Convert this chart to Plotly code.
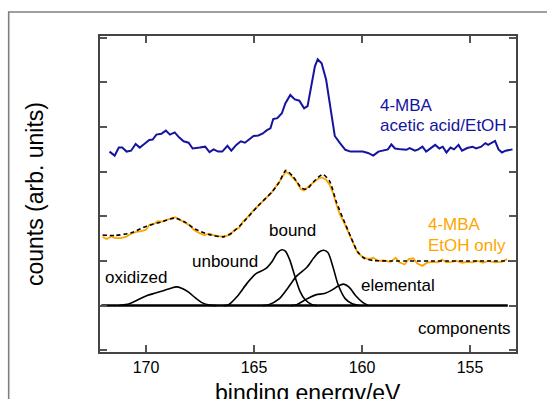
import plotly.graph_objects as go

# ---- data (binding energy in eV, counts in arbitrary offset units) ----
blue_x = [171.69,171.45,171.26,171.10,170.90,170.69,170.48,170.29,170.08,169.85,169.69,169.52,169.29,169.08,168.89,168.67,168.47,168.26,168.03,167.84,167.51,167.26,167.06,166.87,166.66,166.47,166.23,166.05,165.82,165.61,165.42,165.21,165.02,164.80,164.61,164.40,164.24,164.11,163.92,163.71,163.55,163.32,163.11,162.90,162.68,162.52,162.34,162.18,162.05,161.87,161.66,161.45,161.26,161.02,160.77,160.53,160.21,159.97,159.72,159.48,159.24,159.00,158.80,158.64,158.47,158.19,157.95,157.79,157.55,157.39,157.20,157.03,156.82,156.61,156.42,156.26,156.09,155.90,155.74,155.53,155.37,155.13,154.88,154.72,154.48,154.29,154.16,154.00,153.84,153.68,153.52,153.35,153.03]
blue_y = [3.45,3.36,3.54,3.54,3.45,3.47,3.62,3.54,3.62,3.71,3.72,3.83,3.85,3.92,3.83,3.88,3.77,3.68,3.65,3.52,3.54,3.56,3.44,3.50,3.45,3.45,3.58,3.47,3.60,3.68,3.65,3.73,3.80,3.81,3.85,3.93,3.97,4.18,4.20,4.31,4.53,4.72,4.62,4.59,4.42,4.47,4.98,5.36,5.52,5.43,5.06,4.38,3.80,3.64,3.49,3.45,3.45,3.45,3.42,3.36,3.45,3.47,3.50,3.61,3.52,3.50,3.49,3.53,3.47,3.50,3.56,3.45,3.53,3.60,3.52,3.56,3.43,3.54,3.50,3.60,3.47,3.53,3.56,3.52,3.56,3.64,3.60,3.65,3.69,3.50,3.43,3.47,3.50]

orange_x = [172.01,171.82,171.61,171.42,171.18,170.93,170.69,170.45,170.21,170.00,169.84,169.64,169.45,169.24,169.03,168.84,168.63,168.43,168.19,167.95,167.79,167.55,167.31,167.06,166.82,166.58,166.34,166.10,165.90,165.69,165.50,165.26,165.05,164.80,164.61,164.40,164.19,164.00,163.84,163.68,163.52,163.35,163.19,163.03,162.84,162.68,162.47,162.27,162.07,161.87,161.66,161.50,161.34,161.18,161.02,160.86,160.69,160.53,160.37,160.21,159.97,159.72,159.48,159.24,159.00,158.68,158.44,158.27,158.03,157.84,157.63,157.44,157.20,156.99,156.74,156.50,156.29,156.09,155.85,155.61,155.37,155.13,154.88,154.64,154.40,154.16,153.84,153.52,153.28]
orange_y = [1.54,1.49,1.55,1.51,1.51,1.54,1.61,1.65,1.67,1.70,1.81,1.83,1.89,1.88,1.92,1.95,1.98,1.92,1.85,1.79,1.70,1.63,1.58,1.61,1.57,1.55,1.55,1.59,1.70,1.74,1.89,2.00,2.12,2.24,2.33,2.43,2.53,2.66,2.76,2.89,3.00,2.94,2.86,2.78,2.61,2.58,2.67,2.74,2.83,2.87,2.82,2.71,2.52,2.26,2.04,1.89,1.70,1.54,1.36,1.19,1.09,1.04,1.07,1.00,1.01,0.98,1.07,0.97,0.92,1.04,1.06,0.94,0.89,0.96,0.98,0.97,1.03,0.97,0.98,1.00,0.96,0.98,0.97,1.00,0.96,1.00,0.97,0.98,1.04]

fit_x = [172.01,171.42,170.69,169.97,169.32,168.67,168.19,167.71,167.06,166.42,166.02,165.45,164.80,164.16,163.84,163.52,163.19,162.79,162.55,162.23,161.82,161.50,161.18,160.86,160.53,160.21,159.89,159.48,158.68,153.03]
fit_y = [1.58,1.57,1.63,1.78,1.87,1.96,1.87,1.71,1.59,1.54,1.63,1.89,2.24,2.55,2.76,3.03,2.89,2.63,2.61,2.78,2.94,2.79,2.31,1.93,1.55,1.21,1.06,1.01,1.00,1.00]

oxidized_x = [171.26,170.77,170.37,169.97,169.56,169.16,168.84,168.60,168.35,168.03,167.71,167.39,167.06,166.74]
oxidized_y = [0.00,0.04,0.13,0.22,0.28,0.34,0.39,0.42,0.39,0.30,0.17,0.06,0.01,0.00]

unbound_x = [166.40,166.18,165.77,165.29,164.89,164.48,164.16,163.92,163.71,163.55,163.35,163.11,162.87,162.63,162.31,162.10]
unbound_y = [0.00,0.02,0.21,0.52,0.72,0.82,0.99,1.18,1.25,1.22,1.03,0.66,0.32,0.13,0.02,0.00]

bound_x = [164.60,164.32,163.84,163.44,163.03,162.55,162.23,161.99,161.78,161.58,161.34,161.10,160.77,160.45,160.13]
bound_y = [0.00,0.02,0.15,0.39,0.66,0.86,1.07,1.20,1.24,1.19,0.86,0.46,0.15,0.04,0.00]

elemental_x = [163.30,163.03,162.55,162.14,161.74,161.42,161.10,160.86,160.61,160.29,159.97,159.72]
elemental_y = [0.00,0.02,0.15,0.24,0.27,0.34,0.44,0.48,0.42,0.22,0.07,0.00]

baseline_x = [172.07, 153.25]
baseline_y = [0.0, 0.0]

x_ticks = [170, 165, 160, 155]
y_ticks = [-1, 0, 1, 2, 3, 4, 5, 6]

BLUE = "#1414a0"
ORANGE = "#FFA500"
FONT = "Liberation Sans, Arial, Helvetica, sans-serif"

fig = go.Figure()
fig.add_trace(go.Scatter(x=baseline_x, y=baseline_y, mode="lines",
                         line=dict(color="black", width=2.5)))
for cx, cy in [(oxidized_x, oxidized_y), (unbound_x, unbound_y),
               (bound_x, bound_y), (elemental_x, elemental_y)]:
    fig.add_trace(go.Scatter(x=cx, y=cy, mode="lines",
                             line=dict(color="black", width=1.6, shape="spline", smoothing=0.8)))
fig.add_trace(go.Scatter(x=orange_x, y=orange_y, mode="lines",
                         line=dict(color=ORANGE, width=1.8)))
fig.add_trace(go.Scatter(x=fit_x, y=fit_y, mode="lines",
                         line=dict(color="black", width=1.6, dash="4px,3px", shape="spline", smoothing=0.6)))
fig.add_trace(go.Scatter(x=blue_x, y=blue_y, mode="lines",
                         line=dict(color=BLUE, width=2)))

def label(text, x, y, color="black", anchor="left"):
    fig.add_annotation(text=text, x=x, y=y, xref="x", yref="y", showarrow=False,
                       xanchor=anchor, yanchor="middle", borderpad=0,
                       font=dict(family=FONT, size=17, color=color))

label("4-MBA", 159.22, 4.48, BLUE)
label("acetic acid/EtOH", 159.22, 4.04, BLUE)
label("4-MBA", 157.0, 1.81, ORANGE)
label("EtOH only", 157.0, 1.35, ORANGE)
label("bound", 164.34, 1.69)
label("unbound", 167.94, 0.98)
label("oxidized", 171.94, 0.63)
label("elemental", 160.11, 0.45)
label("components", 153.05, -0.51, anchor="right")

# axis titles
fig.add_annotation(text="binding energy/eV", x=0.5, y=-0.082, xref="paper", yref="paper",
                   showarrow=False, xanchor="center", yanchor="top",
                   font=dict(family=FONT, size=23, color="black"))
fig.add_annotation(text="counts (arb. units)", x=-0.156, y=0.5, xref="paper", yref="paper",
                   showarrow=False, xanchor="center", yanchor="middle", textangle=-90,
                   font=dict(family=FONT, size=23, color="black"))

# outer frame
fig.add_shape(type="rect", xref="paper", yref="paper", x0=-0.2195, y0=-0.4, x1=1.3, y1=1.076,
              line=dict(color="#808080", width=1.6), fillcolor="rgba(0,0,0,0)")

axis_common = dict(showline=True, mirror="allticks", linecolor="#444444", linewidth=1.5,
                   ticks="inside", ticklen=7, tickwidth=1.5, tickcolor="#555555",
                   showgrid=False, zeroline=False)
fig.update_xaxes(range=[172.13, 152.87], tickvals=x_ticks, ticktext=[str(v) for v in x_ticks],
                 tickfont=dict(family=FONT, size=16, color="black"), **axis_common)
fig.update_yaxes(range=[-1.04, 6.04], tickvals=y_ticks, showticklabels=False, **axis_common)

fig.update_layout(width=547, height=399, margin=dict(l=100, r=31, t=36, b=47),
                  paper_bgcolor="white", plot_bgcolor="white", showlegend=False,
                  font=dict(family=FONT))
fig.write_html("out.html")
